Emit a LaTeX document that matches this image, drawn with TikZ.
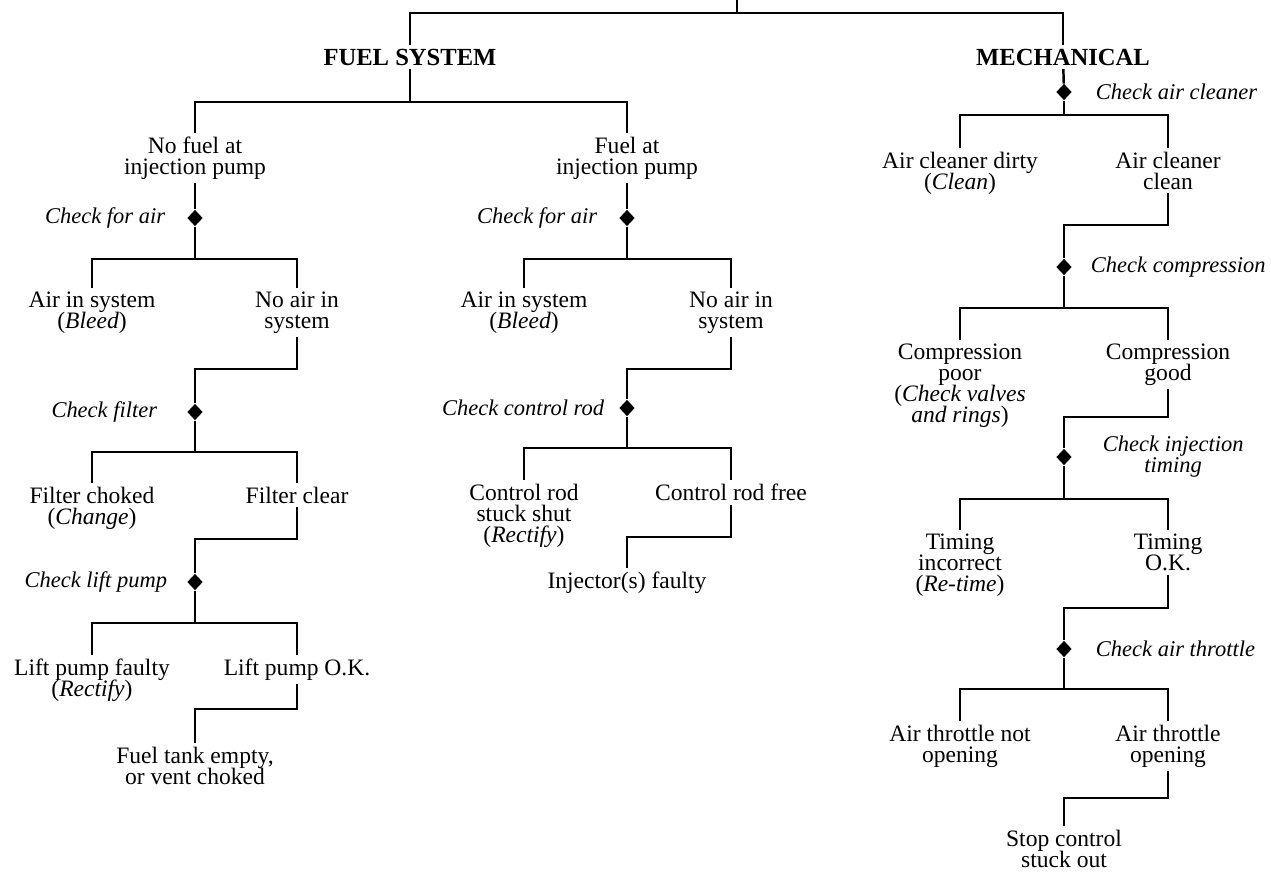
\documentclass[tikz,border=0pt]{standalone}
\usepackage{fontspec}
\setmainfont{Liberation Serif}
\usetikzlibrary{positioning,shapes.geometric}
\tikzset{
  tx/.style={align=center, anchor=north, inner sep=2pt,
             font={\fontsize{13.4pt}{12pt}\selectfont\lineskiplimit-20pt\relax}},
  hd/.style={inner sep=2pt, font=\fontsize{14pt}{14pt}\selectfont\bfseries},
  ck/.style={align=center, inner sep=2pt,
             font={\fontsize{12.8pt}{12pt}\selectfont\itshape\lineskiplimit-20pt\relax}},
  dm/.style={diamond, fill=black, inner sep=0pt,
             minimum width=3.1mm, minimum height=3.3mm},
  ln/.style={line width=1.4pt}
}
\begin{document}
\begin{tikzpicture}[x=0.02cm, y=-0.02cm, node distance=4mm]
  \useasboundingbox (0,0) rectangle (1271,873);
  \node[hd] (fuel) at (410,57) {FUEL SYSTEM};
  \node[hd] (mech) at (1063,57) {MECHANICAL};
  \coordinate (root) at (737,0);
  \coordinate (tbar) at (737,13);
  \coordinate (fbar) at (410,102);

  % no fuel at injection pump
  \node[tx] (nofuel) at (195,133) {No fuel at\\injection pump};
  \node[dm] (ckA) at (195,218) {};
  \node[ck, left=3.6mm of ckA] (ckAt) {Check for air};
  \node[tx] (airA) at (92,288) {Air in system\\(\textit{Bleed})};
  \node[tx] (noairA) at (297,288) {No air in\\system};
  \node[dm] (ckB) at (195,412) {};
  \node[ck, left=5.2mm of ckB] (ckBt) {Check filter};
  \node[tx] (choked) at (92,483) {Filter choked\\(\textit{Change})};
  \node[tx] (clear) at (297,483) {Filter clear};
  \node[dm] (ckC) at (195,582) {};
  \node[ck, left=3.2mm of ckC] (ckCt) {Check lift pump};
  \node[tx] (liftbad) at (92,655) {Lift pump faulty\\(\textit{Rectify})};
  \node[tx] (liftok) at (297,655) {Lift pump O.K.};
  \node[tx] (tank) at (195,743) {Fuel tank empty,\\or vent choked};

  % fuel at injection pump
  \node[tx] (fuelat) at (627,133) {Fuel at\\injection pump};
  \node[dm] (ckD) at (627,218) {};
  \node[ck, left=3.6mm of ckD] (ckDt) {Check for air};
  \node[tx] (airB) at (524,288) {Air in system\\(\textit{Bleed})};
  \node[tx] (noairB) at (731,288) {No air in\\system};
  \node[dm] (ckE) at (627,408) {};
  \node[ck, left=2.2mm of ckE] (ckEt) {Check control rod};
  \node[tx] (stuck) at (524,480) {Control rod\\stuck shut\\(\textit{Rectify})};
  \node[tx] (free) at (731,480) {Control rod free};
  \node[tx] (injector) at (627,568) {Injector(s) faulty};

  % mechanical
  \node[dm] (ckF) at (1064,92) {};
  \node[ck, right=4mm of ckF] (ckFt) {Check air cleaner};
  \node[tx] (dirty) at (960,148) {Air cleaner dirty\\(\textit{Clean})};
  \node[tx] (cleaner) at (1168,148) {Air cleaner\\clean};
  \node[dm] (ckG) at (1064,267) {};
  \node[ck, right=3mm of ckG] (ckGt) {Check compression};
  \node[tx] (poor) at (960,340) {Compression\\poor\\(\textit{Check valves}\\\textit{and rings})};
  \node[tx] (good) at (1168,340) {Compression\\good};
  \node[dm] (ckH) at (1064,457) {};
  \node[ck, right=5.4mm of ckH] (ckHt) {Check injection\\timing};
  \node[tx] (incorrect) at (960,530) {Timing\\incorrect\\(\textit{Re-time})};
  \node[tx] (timeok) at (1168,530) {Timing\\O.K.};
  \node[dm] (ckI) at (1064,649) {};
  \node[ck, right=4mm of ckI] (ckIt) {Check air throttle};
  \node[tx] (notopen) at (960,721) {Air throttle not\\opening};
  \node[tx] (open) at (1168,721) {Air throttle\\opening};
  \node[tx] (stop) at (1064,826) {Stop control\\stuck out};

  \coordinate (bA) at (195,259); \coordinate (jA) at (195,369);
  \coordinate (bB) at (195,452); \coordinate (jB) at (195,539);
  \coordinate (bC) at (195,623); \coordinate (jC) at (195,709);
  \coordinate (bD) at (627,259); \coordinate (jD) at (627,369);
  \coordinate (bE) at (627,448); \coordinate (jE) at (627,537);
  \coordinate (bF) at (1064,115); \coordinate (jF) at (1064,225);
  \coordinate (bG) at (1064,308); \coordinate (jG) at (1064,417);
  \coordinate (bH) at (1064,499); \coordinate (jH) at (1064,608);
  \coordinate (bI) at (1064,689); \coordinate (jI) at (1064,798);

  \draw[ln] (root) -- (tbar); \draw[ln] (fuel) |- (tbar) -| (mech);
  \draw[ln] (fuel) -- (fbar); \draw[ln] (nofuel) |- (fbar) -| (fuelat);

  \draw[ln] (nofuel) -- (ckA); \draw[ln] (ckA) -- (bA);
  \draw[ln] (airA) |- (bA) -| (noairA);
  \draw[ln] (noairA) |- (jA) -- (ckB); \draw[ln] (ckB) -- (bB);
  \draw[ln] (choked) |- (bB) -| (clear);
  \draw[ln] (clear) |- (jB) -- (ckC); \draw[ln] (ckC) -- (bC);
  \draw[ln] (liftbad) |- (bC) -| (liftok);
  \draw[ln] (liftok) |- (jC) -- (tank);

  \draw[ln] (fuelat) -- (ckD); \draw[ln] (ckD) -- (bD);
  \draw[ln] (airB) |- (bD) -| (noairB);
  \draw[ln] (noairB) |- (jD) -- (ckE); \draw[ln] (ckE) -- (bE);
  \draw[ln] (stuck) |- (bE) -| (free);
  \draw[ln] (free) |- (jE) -- (injector);

  \draw[ln] (mech) -- (ckF); \draw[ln] (ckF) -- (bF);
  \draw[ln] (dirty) |- (bF) -| (cleaner);
  \draw[ln] (cleaner) |- (jF) -- (ckG); \draw[ln] (ckG) -- (bG);
  \draw[ln] (poor) |- (bG) -| (good);
  \draw[ln] (good) |- (jG) -- (ckH); \draw[ln] (ckH) -- (bH);
  \draw[ln] (incorrect) |- (bH) -| (timeok);
  \draw[ln] (timeok) |- (jH) -- (ckI); \draw[ln] (ckI) -- (bI);
  \draw[ln] (notopen) |- (bI) -| (open);
  \draw[ln] (open) |- (jI) -- (stop);
\end{tikzpicture}
\end{document}
